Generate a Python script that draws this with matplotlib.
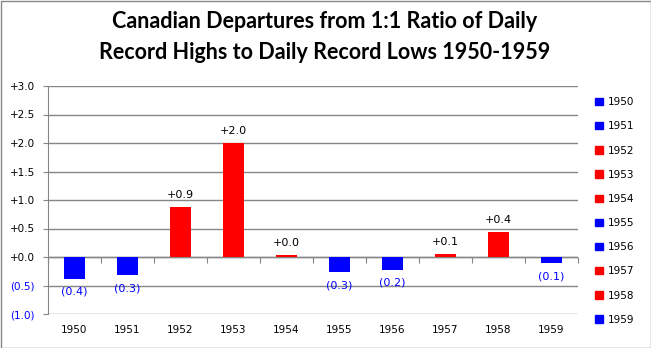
import matplotlib
matplotlib.use("Agg")
import matplotlib.pyplot as plt
from matplotlib.patches import Patch, Rectangle

years = ["1950", "1951", "1952", "1953", "1954", "1955", "1956", "1957", "1958", "1959"]
values = [-0.38, -0.32, 0.87, 2.00, 0.04, -0.27, -0.22, 0.05, 0.44, -0.10]
labels = ["(0.4)", "(0.3)", "+0.9", "+2.0", "+0.0", "(0.3)", "(0.2)", "+0.1", "+0.4", "(0.1)"]
yticks = [-1.0, -0.5, 0.0, 0.5, 1.0, 1.5, 2.0, 2.5, 3.0]
ytick_labels = ["(1.0)", "(0.5)", "+0.0", "+0.5", "+1.0", "+1.5", "+2.0", "+2.5", "+3.0"]
title = "Canadian Departures from 1:1 Ratio of Daily\nRecord Highs to Daily Record Lows 1950-1959"

RED = "#ff0000"
BLUE = "#0000ff"
GRID = "#868686"

plt.rcParams['font.family'] = ['DejaVu Sans']
fig = plt.figure(figsize=(6.51, 3.48), dpi=100)
ax = fig.add_axes([48/651, 1-314/348, 530/651, 228/348])

x = list(range(len(years)))
colors = [RED if v > 0 else BLUE for v in values]
ax.bar(x, values, width=0.4, color=colors, zorder=3)

ax.set_xlim(-0.5, len(years) - 0.5)
ax.set_ylim(-1.0, 3.0)
ax.set_yticks(yticks)
ax.set_yticklabels(ytick_labels, fontsize=7.5)
for t, v in zip(ax.get_yticklabels(), yticks):
    t.set_color(BLUE if v < 0 else "black")
ax.yaxis.grid(True, color=GRID, linewidth=1.0, zorder=0)
ax.tick_params(axis='y', length=3.5, color=GRID, pad=6)

ax.set_xticks(x)
ax.set_xticklabels(years, fontsize=7.5)
ax.tick_params(axis='x', length=0, pad=8)

for s in ["top", "right", "bottom"]:
    ax.spines[s].set_visible(False)
ax.spines["left"].set_color(GRID)

ax.axhline(0, color=GRID, linewidth=1.0, zorder=2)
sec = ax.secondary_xaxis(0.25)
sec.set_xticks([i + 0.5 for i in range(-1, len(years))])
sec.set_xticklabels([])
sec.tick_params(axis='x', length=4, color=GRID, direction='out')
sec.spines['bottom'].set_visible(False)

for xi, v, lab in zip(x, values, labels):
    if v >= 0:
        ax.annotate(lab, (xi, v), xytext=(0, 5), textcoords="offset points",
                    ha="center", va="bottom", fontsize=8, color="black")
    else:
        ax.annotate(lab, (xi, v), xytext=(0, -6), textcoords="offset points",
                    ha="center", va="top", fontsize=8, color=BLUE)

fig.text(325/651, 1-37/348, title, ha="center", va="center", fontsize=15.5,
         fontweight="bold", family=["Lato", "DejaVu Sans"], linespacing=1.55)

handles = [Patch(facecolor=c, edgecolor=c) for c in colors]
leg = fig.legend(handles, years, loc="upper left", bbox_to_anchor=(590/651, 1-92/348),
                 frameon=False, fontsize=7.5, handlelength=0.7, handleheight=0.7,
                 handletextpad=0.5, labelspacing=1.36, borderpad=0)

fig.patches.append(Rectangle((0.5/651, 0.5/348), 1-1/651, 1-1/348, transform=fig.transFigure,
                             fill=False, edgecolor=GRID, linewidth=1.0))

fig.savefig("out.png", dpi=100)
